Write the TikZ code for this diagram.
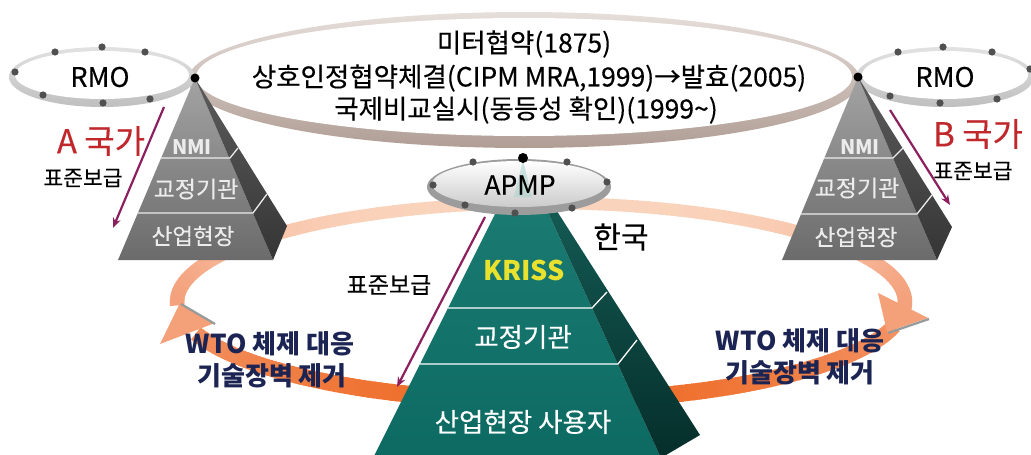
\documentclass[tikz,border=0pt]{standalone}
\usepackage{fontspec}
\setmainfont{Noto Sans CJK KR}[UprightFeatures={FakeBold=0.3}]
\usetikzlibrary{arrows.meta}
\definecolor{ringTopC}{HTML}{E6DEDA}
\definecolor{ringBotC}{HTML}{B09E95}
\definecolor{rmoTop}{HTML}{E2E2E2}
\definecolor{rmoBot}{HTML}{BFBFBF}
\definecolor{dotC}{HTML}{505050}
\definecolor{peach}{HTML}{FAD3BC}
\definecolor{salmon}{HTML}{F4A27D}
\definecolor{orng}{HTML}{EE6B25}
\definecolor{orngL}{HTML}{F39467}
\definecolor{headC}{HTML}{F4A079}
\definecolor{edgeC}{HTML}{959A9A}
\definecolor{grayFT}{HTML}{A3A3A3}
\definecolor{grayFB}{HTML}{6B6B6B}
\definecolor{graySideT}{HTML}{5C5C5C}
\definecolor{graySideB}{HTML}{353535}
\definecolor{tealT}{HTML}{1D7E75}
\definecolor{tealB}{HTML}{0C6A62}
\definecolor{tealSideT}{HTML}{17625B}
\definecolor{tealSideB}{HTML}{052E2A}
\definecolor{purp}{HTML}{8C1F5E}
\definecolor{redA}{HTML}{C0282C}
\definecolor{navyT}{HTML}{1B2452}
\definecolor{krissY}{HTML}{E8E22E}
\definecolor{lblW}{HTML}{ECECEC}
\definecolor{apmpRim}{HTML}{9C9C9C}
\definecolor{apmpBot}{HTML}{CBCBCB}
\definecolor{wedgeC}{HTML}{A9D2CD}
\tikzset{
  txt/.style={inner sep=0pt, text=black},
  fsz/.style={font=\fontsize{#1pt}{#1pt}\selectfont},
  fszb/.style={font=\fontsize{#1pt}{#1pt}\selectfont\bfseries},
  parr/.style={draw=purp, line width=2.2pt, -{Stealth[length=10pt,width=8pt]}},
  layerG/.style={draw=lblW, line width=1.3pt},
  layerT/.style={draw=white, line width=1.3pt},
  gdot/.style={fill=dotC},
}
\begin{document}
\begin{tikzpicture}[x=1pt,y=-1pt]
\useasboundingbox (0,0) rectangle (1031,455);
\clip (0,0) rectangle (1031,455);
\fill[white] (0,0) rectangle (1031,455);

% ---- back part of the orbit band (light)
\foreach \t in {178,179,...,363}{
  \pgfmathsetmacro{\w}{14.5+2.5*sin(\t)}
  \pgfmathtruncatemacro{\m}{100*cos(\t)*cos(\t)*cos(\t)*cos(\t)}
  \draw[line width=\w pt, draw=salmon!\m!peach] ({541+364*cos(\t)},{302+99*sin(\t)}) -- ({541+364*cos(\t+1.5)},{302+99*sin(\t+1.5)});
}

% ---- top large ellipse ring
\shade[top color=ringTopC, bottom color=ringBotC] (524,80) ellipse [x radius=336pt, y radius=68pt];
\fill[white] (524,77) ellipse [x radius=328pt, y radius=59pt];

% ---- RMO rings
\shade[top color=rmoTop, bottom color=rmoBot] (102,77) ellipse [x radius=93pt, y radius=30pt];
\fill[white] (102,75) ellipse [x radius=87pt, y radius=24pt];
\shade[top color=rmoTop, bottom color=rmoBot] (945,77) ellipse [x radius=89pt, y radius=30pt];
\fill[white] (945,75) ellipse [x radius=83pt, y radius=24pt];
\foreach \p in {(55,52),(102,47),(145,52),(15,72),(43,95),(103,103),(150,99),
                (898,52),(943,47),(992,52),(1030,69),(890,96),(940,103),(997,99)}
  \fill[gdot] \p circle[radius=3.6pt];

% ---- left pyramid
\shade[top color=grayFT, bottom color=grayFB] (195,78) -- (118,260) -- (273,260) -- cycle;
\shade[top color=graySideT, bottom color=graySideB] (195,78) -- (287,226) -- (273,260) -- cycle;
\draw[layerG] (161,158) -- (230,158) -- (238,148);
\draw[layerG] (138,213) -- (253,213) -- (267,194);
% ---- right pyramid
\shade[top color=grayFT, bottom color=grayFB] (858,77) -- (782,260) -- (937,260) -- cycle;
\shade[top color=graySideT, bottom color=graySideB] (858,77) -- (952,227) -- (937,260) -- cycle;
\draw[layerG] (824,158) -- (893,158) -- (903,148);
\draw[layerG] (801,214) -- (917,214) -- (932,195);

\fill[black] (195,78) circle[radius=4.5pt];
\fill[black] (858,77) circle[radius=4.5pt];

% ---- front part of the orbit band (orange)
\foreach \t in {14,15,...,160}{
  \pgfmathsetmacro{\w}{14.5+2.5*sin(\t)}
  \pgfmathtruncatemacro{\m}{100*cos(\t)*cos(\t)}
  \draw[line width=\w pt, draw=orngL!\m!orng] ({541+364*cos(\t)},{302+99*sin(\t)}) -- ({541+364*cos(\t+1.5)},{302+99*sin(\t+1.5)});
}
% arrowheads
\fill[headC] (180,303) -- (160,344) -- (215,323) -- cycle;
\draw[edgeC, line width=2.2pt] (181,304) -- (215,324);
\fill[headC] (887,332) -- (878,293) -- (928,318) -- cycle;
\draw[edgeC, line width=2.2pt] (888,333) -- (929,319);

% ---- central pyramid
\shade[top color=tealT, bottom color=tealB] (523,158) -- (373,458) -- (661,458) -- cycle;
\shade[top color=tealSideT, bottom color=tealSideB] (523,158) -- (700,435) -- (661,458) -- cycle;
\draw[layerT] (448,308) -- (592,308) -- (607,292);
\draw[layerT] (420,364) -- (618,364) -- (637,340);

% ---- APMP disk
\fill[apmpRim] (519,187) ellipse [x radius=92pt, y radius=28pt];
\shade[top color=white, bottom color=apmpBot] (519,184) ellipse [x radius=87pt, y radius=23pt];
\fill[wedgeC, opacity=0.55] (523,160) -- (514,197) -- (532,197) -- cycle;
\foreach \p in {(473,162),(567,162),(433,185),(607,182),(465,205),(515,213),(572,208)}
  \fill[gdot] \p circle[radius=3.6pt];
\fill[black] (523,158) circle[radius=5pt];

% ---- arrows (표준보급)
\coordinate (la1) at (164,107); \coordinate (la2) at (113,228);
\coordinate (ra1) at (890,110); \coordinate (ra2) at (950,205);
\coordinate (ca1) at (485,217); \coordinate (ca2) at (397,387);
\draw[parr] (la1) -- (la2);
\draw[parr] (ra1) -- (ra2);
\draw[parr] (ca1) -- (ca2);

% ---- texts
\node[txt, fsz=26.5] (t1) at (524,44) {미터협약(1875)};
\node[txt, fsz=26.5] (t2) at (529,78) {상호인정협약체결(CIPM MRA,1999)→발효(2005)};
\node[txt, fsz=26.5] (t3) at (526,110) {국제비교실시(동등성 확인)(1999\textasciitilde)};
\node[txt, fsz=27] (rmoL) at (100,77) {RMO};
\node[txt, fsz=27] (rmoR) at (945,77) {RMO};
\node[txt, fsz=33, text=redA] (aK) at (101,141) {A 국가};
\node[txt, fsz=33, text=redA] (bK) at (978,134) {B 국가};
\node[txt, fsz=21.5] (sL) at (83,178) {표준보급};
\node[txt, fsz=21.5] (sR) at (973,171) {표준보급};
\node[txt, fsz=23] (sC) at (389,285) {표준보급};
\node[txt, fszb=20, text=lblW] (nmiL) at (192,147) {NMI};
\node[txt, fszb=20, text=lblW] (nmiR) at (860,147) {NMI};
\node[txt, fsz=23, text=lblW] (cL) at (196,189) {교정기관};
\node[txt, fsz=23, text=lblW] (cR) at (857,188) {교정기관};
\node[txt, fsz=22.5, text=lblW] (iL) at (193,236) {산업현장};
\node[txt, fsz=22.5, text=lblW] (iR) at (856,237) {산업현장};
\node[txt, fsz=26.5] (apmp) at (520,185) {APMP};
\node[txt, fszb=27, text=krissY] (kriss) at (524,270) {KRISS};
\node[txt, fsz=26.5, text=white] (cC) at (523,337) {교정기관};
\node[txt, fsz=26.5, text=white] (iC) at (523,422) {산업현장 사용자};
\node[txt, fsz=30] (kor) at (621,237) {한국};
\node[txt, fszb=26, text=navyT] (w1) at (270,344) {WTO 체제 대응};
\node[txt, fszb=26, text=navyT] (w2) at (272,376) {기술장벽 제거};
\node[txt, fszb=26, text=navyT] (w3) at (800,341) {WTO 체제 대응};
\node[txt, fszb=26, text=navyT] (w4) at (800,373) {기술장벽 제거};
\end{tikzpicture}
\end{document}
